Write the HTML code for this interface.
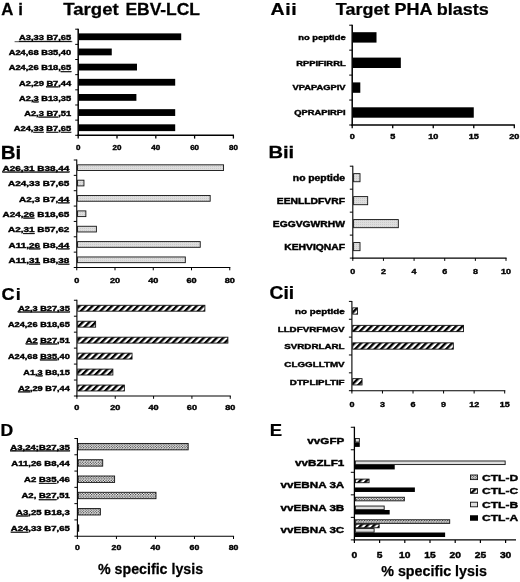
<!DOCTYPE html>
<html><head><meta charset="utf-8"><title>Figure</title>
<style>
html,body{margin:0;padding:0;background:#fff;}
body{width:520px;height:582px;overflow:hidden;}
svg{display:block;filter:blur(0.35px);}
svg text{font-family:"Liberation Sans",Arial,Helvetica,sans-serif;font-weight:bold;fill:#000;stroke:#000;stroke-width:0.25px;}
svg text.s{stroke-width:0.4px;}
</style></head><body>
<svg width="520" height="582" viewBox="0 0 520 582">
<defs>
<pattern id="phatch" width="4.6" height="4.6" patternUnits="userSpaceOnUse" patternTransform="rotate(45)">
<rect width="4.6" height="4.6" fill="#fff"/><rect width="2.35" height="4.6" fill="#000"/></pattern>
<pattern id="pdot" width="2.6" height="2.6" patternUnits="userSpaceOnUse">
<rect width="2.6" height="2.6" fill="#fff"/><circle cx="0.65" cy="0.65" r="0.62" fill="#000"/><circle cx="1.95" cy="1.95" r="0.62" fill="#000"/></pattern>
<pattern id="pgray" width="2" height="2" patternUnits="userSpaceOnUse">
<rect width="2" height="2" fill="#dedede"/><rect width="1" height="1" fill="#cbcbcb"/></pattern>
</defs>
<rect width="520" height="582" fill="#fff"/>

<text transform="translate(1.20,15.00) scale(1.030,1)" font-size="16.3" text-anchor="start" word-spacing="0.8">A i</text>
<text transform="translate(63.20,15.00) scale(1.164,1)" font-size="16" text-anchor="start">Target</text>
<text transform="translate(125.40,15.00) scale(1.091,1)" font-size="16" text-anchor="start">EBV-LCL</text>
<text transform="translate(270.60,15.00) scale(1.150,1)" font-size="17" text-anchor="start" letter-spacing="0.5">Aii</text>
<text transform="translate(335.80,15.00) scale(1.125,1)" font-size="16" text-anchor="start">Target PHA blasts</text>
<text transform="translate(0.80,158.50) scale(1.080,1)" font-size="19" text-anchor="start">Bi</text>
<text transform="translate(268.40,158.00) scale(1.170,1)" font-size="17.2" text-anchor="start">Bii</text>
<text transform="translate(1.40,300.00) scale(1.100,1)" font-size="16.5" text-anchor="start" letter-spacing="1.2">Ci</text>
<text transform="translate(269.60,298.80) scale(1.100,1)" font-size="17.5" text-anchor="start">Cii</text>
<text transform="translate(0.60,435.60) scale(1.100,1)" font-size="16" text-anchor="start">D</text>
<text transform="translate(269.80,436.00) scale(1.120,1)" font-size="16.5" text-anchor="start">E</text>
<text transform="translate(98.00,573.60) scale(0.995,1)" font-size="14.3" text-anchor="start">% specific lysis</text>
<text transform="translate(381.20,576.30) scale(1.000,1)" font-size="14.3" text-anchor="start">% specific lysis</text>
<line x1="78.20" y1="28.70" x2="78.20" y2="136.05" stroke="#000" stroke-width="1.5"/>
<line x1="77.45" y1="135.30" x2="234.00" y2="135.30" stroke="#000" stroke-width="1.5"/>
<line x1="75.20" y1="29.20" x2="78.20" y2="29.20" stroke="#000" stroke-width="1.0"/>
<line x1="75.20" y1="44.36" x2="78.20" y2="44.36" stroke="#000" stroke-width="1.0"/>
<line x1="75.20" y1="59.51" x2="78.20" y2="59.51" stroke="#000" stroke-width="1.0"/>
<line x1="75.20" y1="74.67" x2="78.20" y2="74.67" stroke="#000" stroke-width="1.0"/>
<line x1="75.20" y1="89.83" x2="78.20" y2="89.83" stroke="#000" stroke-width="1.0"/>
<line x1="75.20" y1="104.99" x2="78.20" y2="104.99" stroke="#000" stroke-width="1.0"/>
<line x1="75.20" y1="120.14" x2="78.20" y2="120.14" stroke="#000" stroke-width="1.0"/>
<line x1="75.20" y1="135.30" x2="78.20" y2="135.30" stroke="#000" stroke-width="1.0"/>
<line x1="78.20" y1="135.30" x2="78.20" y2="138.60" stroke="#000" stroke-width="1.3"/>
<text transform="translate(78.20,150.00) scale(1.100,1)" font-size="7.3" text-anchor="middle" class="s">0</text>
<line x1="117.00" y1="135.30" x2="117.00" y2="138.60" stroke="#000" stroke-width="1.3"/>
<text transform="translate(117.00,150.00) scale(1.100,1)" font-size="7.3" text-anchor="middle" class="s">20</text>
<line x1="155.80" y1="135.30" x2="155.80" y2="138.60" stroke="#000" stroke-width="1.3"/>
<text transform="translate(155.80,150.00) scale(1.100,1)" font-size="7.3" text-anchor="middle" class="s">40</text>
<line x1="194.60" y1="135.30" x2="194.60" y2="138.60" stroke="#000" stroke-width="1.3"/>
<text transform="translate(194.60,150.00) scale(1.100,1)" font-size="7.3" text-anchor="middle" class="s">60</text>
<line x1="233.40" y1="135.30" x2="233.40" y2="138.60" stroke="#000" stroke-width="1.3"/>
<text transform="translate(233.40,150.00) scale(1.100,1)" font-size="7.3" text-anchor="middle" class="s">80</text>
<rect x="78.75" y="33.38" width="102.46" height="6.80" fill="#000"/>
<text transform="translate(71.20,40.18) scale(1.330,1)" font-size="7" text-anchor="end" class="s"><tspan text-decoration="underline">A3,33 B7,65</tspan></text>
<rect x="78.75" y="48.54" width="33.01" height="6.80" fill="#000"/>
<text transform="translate(71.20,55.34) scale(1.330,1)" font-size="7" text-anchor="end" class="s">A24,68 B35,40</text>
<rect x="78.75" y="63.69" width="58.23" height="6.80" fill="#000"/>
<text transform="translate(71.20,70.49) scale(1.330,1)" font-size="7" text-anchor="end" class="s">A24,26 B18,<tspan text-decoration="underline">65</tspan></text>
<rect x="78.75" y="78.85" width="96.45" height="6.80" fill="#000"/>
<text transform="translate(71.20,85.65) scale(1.330,1)" font-size="7" text-anchor="end" class="s">A2,29 <tspan text-decoration="underline">B7</tspan>,44</text>
<rect x="78.75" y="94.01" width="57.65" height="6.80" fill="#000"/>
<text transform="translate(71.20,100.81) scale(1.330,1)" font-size="7" text-anchor="end" class="s">A2,<tspan text-decoration="underline">3</tspan> B13,35</text>
<rect x="78.75" y="109.16" width="96.45" height="6.80" fill="#000"/>
<text transform="translate(71.20,115.96) scale(1.330,1)" font-size="7" text-anchor="end" class="s">A2,<tspan text-decoration="underline">3 B7</tspan>,51</text>
<rect x="78.75" y="124.32" width="96.45" height="6.80" fill="#000"/>
<text transform="translate(71.20,131.12) scale(1.330,1)" font-size="7" text-anchor="end" class="s">A24,<tspan text-decoration="underline">33</tspan> <tspan text-decoration="underline">B7</tspan>,<tspan text-decoration="underline">65</tspan></text>
<line x1="14.60" y1="41.70" x2="72.30" y2="41.70" stroke="#000" stroke-width="0.7"/>
<line x1="76.75" y1="159.50" x2="76.75" y2="268.05" stroke="#000" stroke-width="1.1"/>
<line x1="76.20" y1="267.50" x2="230.35" y2="267.50" stroke="#000" stroke-width="1.1"/>
<line x1="73.75" y1="160.00" x2="76.75" y2="160.00" stroke="#000" stroke-width="1.0"/>
<line x1="73.75" y1="175.36" x2="76.75" y2="175.36" stroke="#000" stroke-width="1.0"/>
<line x1="73.75" y1="190.71" x2="76.75" y2="190.71" stroke="#000" stroke-width="1.0"/>
<line x1="73.75" y1="206.07" x2="76.75" y2="206.07" stroke="#000" stroke-width="1.0"/>
<line x1="73.75" y1="221.43" x2="76.75" y2="221.43" stroke="#000" stroke-width="1.0"/>
<line x1="73.75" y1="236.79" x2="76.75" y2="236.79" stroke="#000" stroke-width="1.0"/>
<line x1="73.75" y1="252.14" x2="76.75" y2="252.14" stroke="#000" stroke-width="1.0"/>
<line x1="73.75" y1="267.50" x2="76.75" y2="267.50" stroke="#000" stroke-width="1.0"/>
<line x1="76.75" y1="267.50" x2="76.75" y2="270.30" stroke="#000" stroke-width="1.0"/>
<text transform="translate(76.75,282.60) scale(1.200,1)" font-size="7.6" text-anchor="middle" class="s">0</text>
<line x1="115.00" y1="267.50" x2="115.00" y2="270.30" stroke="#000" stroke-width="1.0"/>
<text transform="translate(115.00,282.60) scale(1.200,1)" font-size="7.6" text-anchor="middle" class="s">20</text>
<line x1="153.25" y1="267.50" x2="153.25" y2="270.30" stroke="#000" stroke-width="1.0"/>
<text transform="translate(153.25,282.60) scale(1.200,1)" font-size="7.6" text-anchor="middle" class="s">40</text>
<line x1="191.50" y1="267.50" x2="191.50" y2="270.30" stroke="#000" stroke-width="1.0"/>
<text transform="translate(191.50,282.60) scale(1.200,1)" font-size="7.6" text-anchor="middle" class="s">60</text>
<line x1="229.75" y1="267.50" x2="229.75" y2="270.30" stroke="#000" stroke-width="1.0"/>
<text transform="translate(229.75,282.60) scale(1.200,1)" font-size="7.6" text-anchor="middle" class="s">80</text>
<rect x="77.55" y="164.83" width="146.01" height="5.70" fill="url(#pgray)" stroke="#111" stroke-width="0.9"/>
<text transform="translate(69.40,170.88) scale(1.310,1)" font-size="7.6" text-anchor="end" class="s"><tspan text-decoration="underline">A26,31 B38,44</tspan></text>
<rect x="77.55" y="180.19" width="6.40" height="5.70" fill="url(#pgray)" stroke="#111" stroke-width="0.9"/>
<text transform="translate(69.40,186.24) scale(1.310,1)" font-size="7.6" text-anchor="end" class="s">A24,33 B7,65</text>
<rect x="77.55" y="195.54" width="132.62" height="5.70" fill="url(#pgray)" stroke="#111" stroke-width="0.9"/>
<text transform="translate(69.40,201.59) scale(1.310,1)" font-size="7.6" text-anchor="end" class="s">A2,3 B7,<tspan text-decoration="underline">44</tspan></text>
<rect x="77.55" y="210.90" width="8.31" height="5.70" fill="url(#pgray)" stroke="#111" stroke-width="0.9"/>
<text transform="translate(69.40,216.95) scale(1.310,1)" font-size="7.6" text-anchor="end" class="s">A24,<tspan text-decoration="underline">26</tspan> B18,65</text>
<rect x="77.55" y="226.26" width="18.83" height="5.70" fill="url(#pgray)" stroke="#111" stroke-width="0.9"/>
<text transform="translate(69.40,232.31) scale(1.310,1)" font-size="7.6" text-anchor="end" class="s">A2,<tspan text-decoration="underline">31</tspan> B57,62</text>
<rect x="77.55" y="241.61" width="122.68" height="5.70" fill="url(#pgray)" stroke="#111" stroke-width="0.9"/>
<text transform="translate(69.40,247.66) scale(1.310,1)" font-size="7.6" text-anchor="end" class="s">A11,<tspan text-decoration="underline">26</tspan> B8,<tspan text-decoration="underline">44</tspan></text>
<rect x="77.55" y="256.97" width="107.76" height="5.70" fill="url(#pgray)" stroke="#111" stroke-width="0.9"/>
<text transform="translate(69.40,263.02) scale(1.310,1)" font-size="7.6" text-anchor="end" class="s">A11,<tspan text-decoration="underline">31</tspan> B8,<tspan text-decoration="underline">38</tspan></text>
<line x1="76.90" y1="299.75" x2="76.90" y2="396.55" stroke="#000" stroke-width="1.1"/>
<line x1="76.35" y1="396.00" x2="230.85" y2="396.00" stroke="#000" stroke-width="1.1"/>
<line x1="73.90" y1="300.25" x2="76.90" y2="300.25" stroke="#000" stroke-width="1.0"/>
<line x1="73.90" y1="316.21" x2="76.90" y2="316.21" stroke="#000" stroke-width="1.0"/>
<line x1="73.90" y1="332.17" x2="76.90" y2="332.17" stroke="#000" stroke-width="1.0"/>
<line x1="73.90" y1="348.12" x2="76.90" y2="348.12" stroke="#000" stroke-width="1.0"/>
<line x1="73.90" y1="364.08" x2="76.90" y2="364.08" stroke="#000" stroke-width="1.0"/>
<line x1="73.90" y1="380.04" x2="76.90" y2="380.04" stroke="#000" stroke-width="1.0"/>
<line x1="73.90" y1="396.00" x2="76.90" y2="396.00" stroke="#000" stroke-width="1.0"/>
<line x1="76.90" y1="396.00" x2="76.90" y2="398.80" stroke="#000" stroke-width="1.0"/>
<text transform="translate(76.90,409.75) scale(1.200,1)" font-size="7.6" text-anchor="middle" class="s">0</text>
<line x1="115.24" y1="396.00" x2="115.24" y2="398.80" stroke="#000" stroke-width="1.0"/>
<text transform="translate(115.24,409.75) scale(1.200,1)" font-size="7.6" text-anchor="middle" class="s">20</text>
<line x1="153.57" y1="396.00" x2="153.57" y2="398.80" stroke="#000" stroke-width="1.0"/>
<text transform="translate(153.57,409.75) scale(1.200,1)" font-size="7.6" text-anchor="middle" class="s">40</text>
<line x1="191.91" y1="396.00" x2="191.91" y2="398.80" stroke="#000" stroke-width="1.0"/>
<text transform="translate(191.91,409.75) scale(1.200,1)" font-size="7.6" text-anchor="middle" class="s">60</text>
<line x1="230.25" y1="396.00" x2="230.25" y2="398.80" stroke="#000" stroke-width="1.0"/>
<text transform="translate(230.25,409.75) scale(1.200,1)" font-size="7.6" text-anchor="middle" class="s">80</text>
<rect x="77.70" y="305.28" width="127.18" height="5.90" fill="url(#phatch)" stroke="#111" stroke-width="0.9"/>
<text transform="translate(69.80,310.83) scale(1.260,1)" font-size="7.3" text-anchor="end" class="s"><tspan text-decoration="underline">A2,3 B27,35</tspan></text>
<rect x="77.70" y="321.24" width="17.92" height="5.90" fill="url(#phatch)" stroke="#111" stroke-width="0.9"/>
<text transform="translate(69.80,326.79) scale(1.260,1)" font-size="7.3" text-anchor="end" class="s">A24,26 B18,65</text>
<rect x="77.70" y="337.20" width="150.18" height="5.90" fill="url(#phatch)" stroke="#111" stroke-width="0.9"/>
<text transform="translate(69.80,342.75) scale(1.260,1)" font-size="7.3" text-anchor="end" class="s"><tspan text-decoration="underline">A2</tspan> <tspan text-decoration="underline">B27</tspan>,51</text>
<rect x="77.70" y="353.15" width="54.34" height="5.90" fill="url(#phatch)" stroke="#111" stroke-width="0.9"/>
<text transform="translate(69.80,358.70) scale(1.260,1)" font-size="7.3" text-anchor="end" class="s">A24,68 <tspan text-decoration="underline">B35</tspan>,40</text>
<rect x="77.70" y="369.11" width="35.17" height="5.90" fill="url(#phatch)" stroke="#111" stroke-width="0.9"/>
<text transform="translate(69.80,374.66) scale(1.260,1)" font-size="7.3" text-anchor="end" class="s">A1,<tspan text-decoration="underline">3</tspan> B8,15</text>
<rect x="77.70" y="385.07" width="46.67" height="5.90" fill="url(#phatch)" stroke="#111" stroke-width="0.9"/>
<text transform="translate(69.80,390.62) scale(1.260,1)" font-size="7.3" text-anchor="end" class="s"><tspan text-decoration="underline">A2</tspan>,29 B7,44</text>
<line x1="17.00" y1="311.75" x2="21.00" y2="311.75" stroke="#000" stroke-width="0.6"/>
<line x1="77.40" y1="438.00" x2="77.40" y2="536.75" stroke="#000" stroke-width="1.1"/>
<line x1="76.85" y1="536.20" x2="234.10" y2="536.20" stroke="#000" stroke-width="1.1"/>
<line x1="74.40" y1="438.50" x2="77.40" y2="438.50" stroke="#000" stroke-width="1.0"/>
<line x1="74.40" y1="454.78" x2="77.40" y2="454.78" stroke="#000" stroke-width="1.0"/>
<line x1="74.40" y1="471.07" x2="77.40" y2="471.07" stroke="#000" stroke-width="1.0"/>
<line x1="74.40" y1="487.35" x2="77.40" y2="487.35" stroke="#000" stroke-width="1.0"/>
<line x1="74.40" y1="503.63" x2="77.40" y2="503.63" stroke="#000" stroke-width="1.0"/>
<line x1="74.40" y1="519.92" x2="77.40" y2="519.92" stroke="#000" stroke-width="1.0"/>
<line x1="74.40" y1="536.20" x2="77.40" y2="536.20" stroke="#000" stroke-width="1.0"/>
<line x1="77.40" y1="536.20" x2="77.40" y2="539.00" stroke="#000" stroke-width="1.0"/>
<text transform="translate(77.40,550.20) scale(1.150,1)" font-size="7.6" text-anchor="middle" class="s">0</text>
<line x1="116.43" y1="536.20" x2="116.43" y2="539.00" stroke="#000" stroke-width="1.0"/>
<text transform="translate(116.43,550.20) scale(1.150,1)" font-size="7.6" text-anchor="middle" class="s">20</text>
<line x1="155.45" y1="536.20" x2="155.45" y2="539.00" stroke="#000" stroke-width="1.0"/>
<text transform="translate(155.45,550.20) scale(1.150,1)" font-size="7.6" text-anchor="middle" class="s">40</text>
<line x1="194.47" y1="536.20" x2="194.47" y2="539.00" stroke="#000" stroke-width="1.0"/>
<text transform="translate(194.47,550.20) scale(1.150,1)" font-size="7.6" text-anchor="middle" class="s">60</text>
<line x1="233.50" y1="536.20" x2="233.50" y2="539.00" stroke="#000" stroke-width="1.0"/>
<text transform="translate(233.50,550.20) scale(1.150,1)" font-size="7.6" text-anchor="middle" class="s">80</text>
<rect x="78.20" y="443.44" width="109.97" height="6.40" fill="url(#pdot)" stroke="#111" stroke-width="0.9"/>
<text transform="translate(69.80,449.64) scale(1.310,1)" font-size="7.3" text-anchor="end" class="s"><tspan text-decoration="underline">A3,24;B27,35</tspan></text>
<rect x="78.20" y="459.73" width="24.51" height="6.40" fill="url(#pdot)" stroke="#111" stroke-width="0.9"/>
<text transform="translate(69.80,465.93) scale(1.310,1)" font-size="7.3" text-anchor="end" class="s">A11,26 B8,44</text>
<rect x="78.20" y="476.01" width="36.41" height="6.40" fill="url(#pdot)" stroke="#111" stroke-width="0.9"/>
<text transform="translate(69.80,482.21) scale(1.310,1)" font-size="7.3" text-anchor="end" class="s">A2 <tspan text-decoration="underline">B35</tspan>,46</text>
<rect x="78.20" y="492.29" width="77.78" height="6.40" fill="url(#pdot)" stroke="#111" stroke-width="0.9"/>
<text transform="translate(69.80,498.49) scale(1.310,1)" font-size="7.3" text-anchor="end" class="s">A2, <tspan text-decoration="underline">B27</tspan>,51</text>
<rect x="78.20" y="508.58" width="22.16" height="6.40" fill="url(#pdot)" stroke="#111" stroke-width="0.9"/>
<text transform="translate(69.80,514.78) scale(1.310,1)" font-size="7.3" text-anchor="end" class="s"><tspan text-decoration="underline">A3</tspan>,25 B18,3</text>
<rect x="78.20" y="524.86" width="0.51" height="6.40" fill="url(#pdot)" stroke="#111" stroke-width="0.9"/>
<text transform="translate(69.80,531.06) scale(1.310,1)" font-size="7.3" text-anchor="end" class="s"><tspan text-decoration="underline">A24</tspan>,33 B7,65</text>
<line x1="12.00" y1="450.60" x2="16.00" y2="450.60" stroke="#000" stroke-width="0.6"/>
<line x1="352.20" y1="24.70" x2="352.20" y2="125.75" stroke="#000" stroke-width="1.5"/>
<line x1="351.45" y1="125.00" x2="514.90" y2="125.00" stroke="#000" stroke-width="1.5"/>
<line x1="349.20" y1="25.20" x2="352.20" y2="25.20" stroke="#000" stroke-width="1.0"/>
<line x1="349.20" y1="50.15" x2="352.20" y2="50.15" stroke="#000" stroke-width="1.0"/>
<line x1="349.20" y1="75.10" x2="352.20" y2="75.10" stroke="#000" stroke-width="1.0"/>
<line x1="349.20" y1="100.05" x2="352.20" y2="100.05" stroke="#000" stroke-width="1.0"/>
<line x1="349.20" y1="125.00" x2="352.20" y2="125.00" stroke="#000" stroke-width="1.0"/>
<line x1="352.20" y1="125.00" x2="352.20" y2="128.30" stroke="#000" stroke-width="1.3"/>
<text transform="translate(352.20,139.40) scale(1.200,1)" font-size="7.6" text-anchor="middle" class="s">0</text>
<line x1="392.72" y1="125.00" x2="392.72" y2="128.30" stroke="#000" stroke-width="1.3"/>
<text transform="translate(392.72,139.40) scale(1.200,1)" font-size="7.6" text-anchor="middle" class="s">5</text>
<line x1="433.25" y1="125.00" x2="433.25" y2="128.30" stroke="#000" stroke-width="1.3"/>
<text transform="translate(433.25,139.40) scale(1.200,1)" font-size="7.6" text-anchor="middle" class="s">10</text>
<line x1="473.77" y1="125.00" x2="473.77" y2="128.30" stroke="#000" stroke-width="1.3"/>
<text transform="translate(473.77,139.40) scale(1.200,1)" font-size="7.6" text-anchor="middle" class="s">15</text>
<line x1="514.30" y1="125.00" x2="514.30" y2="128.30" stroke="#000" stroke-width="1.3"/>
<text transform="translate(514.30,139.40) scale(1.200,1)" font-size="7.6" text-anchor="middle" class="s">20</text>
<rect x="352.75" y="32.20" width="23.76" height="10.40" fill="#000"/>
<text transform="translate(345.60,40.20) scale(1.250,1)" font-size="7.5" text-anchor="end" class="s">no peptide</text>
<rect x="352.75" y="57.60" width="48.08" height="10.40" fill="#000"/>
<text transform="translate(345.60,65.60) scale(1.250,1)" font-size="7.5" text-anchor="end" class="s">RPPIFIRRL</text>
<rect x="352.75" y="82.40" width="7.55" height="10.40" fill="#000"/>
<text transform="translate(345.60,90.40) scale(1.250,1)" font-size="7.5" text-anchor="end" class="s">VPAPAGPIV</text>
<rect x="352.75" y="107.30" width="121.02" height="10.40" fill="#000"/>
<text transform="translate(345.60,115.30) scale(1.250,1)" font-size="7.5" text-anchor="end" class="s">QPRAPIRPI</text>
<line x1="352.80" y1="165.70" x2="352.80" y2="258.65" stroke="#000" stroke-width="1.1"/>
<line x1="352.25" y1="258.10" x2="506.60" y2="258.10" stroke="#000" stroke-width="1.1"/>
<line x1="349.80" y1="166.20" x2="352.80" y2="166.20" stroke="#000" stroke-width="1.0"/>
<line x1="349.80" y1="189.18" x2="352.80" y2="189.18" stroke="#000" stroke-width="1.0"/>
<line x1="349.80" y1="212.15" x2="352.80" y2="212.15" stroke="#000" stroke-width="1.0"/>
<line x1="349.80" y1="235.12" x2="352.80" y2="235.12" stroke="#000" stroke-width="1.0"/>
<line x1="349.80" y1="258.10" x2="352.80" y2="258.10" stroke="#000" stroke-width="1.0"/>
<line x1="352.80" y1="258.10" x2="352.80" y2="260.90" stroke="#000" stroke-width="1.0"/>
<text transform="translate(352.80,274.20) scale(1.150,1)" font-size="7.8" text-anchor="middle" class="s">0</text>
<line x1="383.44" y1="258.10" x2="383.44" y2="260.90" stroke="#000" stroke-width="1.0"/>
<text transform="translate(383.44,274.20) scale(1.150,1)" font-size="7.8" text-anchor="middle" class="s">2</text>
<line x1="414.08" y1="258.10" x2="414.08" y2="260.90" stroke="#000" stroke-width="1.0"/>
<text transform="translate(414.08,274.20) scale(1.150,1)" font-size="7.8" text-anchor="middle" class="s">4</text>
<line x1="444.72" y1="258.10" x2="444.72" y2="260.90" stroke="#000" stroke-width="1.0"/>
<text transform="translate(444.72,274.20) scale(1.150,1)" font-size="7.8" text-anchor="middle" class="s">6</text>
<line x1="475.36" y1="258.10" x2="475.36" y2="260.90" stroke="#000" stroke-width="1.0"/>
<text transform="translate(475.36,274.20) scale(1.150,1)" font-size="7.8" text-anchor="middle" class="s">8</text>
<line x1="506.00" y1="258.10" x2="506.00" y2="260.90" stroke="#000" stroke-width="1.0"/>
<text transform="translate(506.00,274.20) scale(1.150,1)" font-size="7.8" text-anchor="middle" class="s">10</text>
<rect x="353.60" y="173.64" width="6.41" height="8.10" fill="url(#pgray)" stroke="#111" stroke-width="0.9"/>
<text transform="translate(345.00,180.69) scale(1.260,1)" font-size="8.2" text-anchor="end" class="s">no peptide</text>
<rect x="353.60" y="196.61" width="14.07" height="8.10" fill="url(#pgray)" stroke="#111" stroke-width="0.9"/>
<text transform="translate(345.00,203.66) scale(1.260,1)" font-size="8.2" text-anchor="end" class="s">EENLLDFVRF</text>
<rect x="353.60" y="219.59" width="44.71" height="8.10" fill="url(#pgray)" stroke="#111" stroke-width="0.9"/>
<text transform="translate(345.00,226.64) scale(1.260,1)" font-size="8.2" text-anchor="end" class="s">EGGVGWRHW</text>
<rect x="353.60" y="242.56" width="6.41" height="8.10" fill="url(#pgray)" stroke="#111" stroke-width="0.9"/>
<text transform="translate(345.00,249.61) scale(1.260,1)" font-size="8.2" text-anchor="end" class="s">KEHVIQNAF</text>
<line x1="351.90" y1="300.90" x2="351.90" y2="391.25" stroke="#000" stroke-width="1.1"/>
<line x1="351.35" y1="390.70" x2="505.30" y2="390.70" stroke="#000" stroke-width="1.1"/>
<line x1="348.90" y1="301.40" x2="351.90" y2="301.40" stroke="#000" stroke-width="1.0"/>
<line x1="348.90" y1="319.26" x2="351.90" y2="319.26" stroke="#000" stroke-width="1.0"/>
<line x1="348.90" y1="337.12" x2="351.90" y2="337.12" stroke="#000" stroke-width="1.0"/>
<line x1="348.90" y1="354.98" x2="351.90" y2="354.98" stroke="#000" stroke-width="1.0"/>
<line x1="348.90" y1="372.84" x2="351.90" y2="372.84" stroke="#000" stroke-width="1.0"/>
<line x1="348.90" y1="390.70" x2="351.90" y2="390.70" stroke="#000" stroke-width="1.0"/>
<line x1="351.90" y1="390.70" x2="351.90" y2="393.50" stroke="#000" stroke-width="1.0"/>
<text transform="translate(351.90,407.40) scale(1.150,1)" font-size="7.8" text-anchor="middle" class="s">0</text>
<line x1="382.46" y1="390.70" x2="382.46" y2="393.50" stroke="#000" stroke-width="1.0"/>
<text transform="translate(382.46,407.40) scale(1.150,1)" font-size="7.8" text-anchor="middle" class="s">3</text>
<line x1="413.02" y1="390.70" x2="413.02" y2="393.50" stroke="#000" stroke-width="1.0"/>
<text transform="translate(413.02,407.40) scale(1.150,1)" font-size="7.8" text-anchor="middle" class="s">6</text>
<line x1="443.58" y1="390.70" x2="443.58" y2="393.50" stroke="#000" stroke-width="1.0"/>
<text transform="translate(443.58,407.40) scale(1.150,1)" font-size="7.8" text-anchor="middle" class="s">9</text>
<line x1="474.14" y1="390.70" x2="474.14" y2="393.50" stroke="#000" stroke-width="1.0"/>
<text transform="translate(474.14,407.40) scale(1.150,1)" font-size="7.8" text-anchor="middle" class="s">12</text>
<line x1="504.70" y1="390.70" x2="504.70" y2="393.50" stroke="#000" stroke-width="1.0"/>
<text transform="translate(504.70,407.40) scale(1.150,1)" font-size="7.8" text-anchor="middle" class="s">15</text>
<rect x="352.70" y="307.85" width="4.86" height="6.30" fill="url(#phatch)" stroke="#111" stroke-width="0.9"/>
<text transform="translate(344.60,314.10) scale(1.227,1)" font-size="8.0" text-anchor="end" class="s">no peptide</text>
<rect x="352.70" y="325.35" width="110.80" height="6.30" fill="url(#phatch)" stroke="#111" stroke-width="0.9"/>
<text transform="translate(344.60,331.60) scale(1.227,1)" font-size="8.0" text-anchor="end" class="s">LLDFVRFMGV</text>
<rect x="352.70" y="342.85" width="100.62" height="6.30" fill="url(#phatch)" stroke="#111" stroke-width="0.9"/>
<text transform="translate(344.60,349.10) scale(1.227,1)" font-size="8.0" text-anchor="end" class="s">SVRDRLARL</text>
<text transform="translate(344.60,366.60) scale(1.227,1)" font-size="8.0" text-anchor="end" class="s">CLGGLLTMV</text>
<rect x="352.70" y="378.65" width="9.34" height="6.30" fill="url(#phatch)" stroke="#111" stroke-width="0.9"/>
<text transform="translate(344.60,384.90) scale(1.227,1)" font-size="8.0" text-anchor="end" class="s">DTPLIPLTIF</text>
<line x1="354.40" y1="426.75" x2="354.40" y2="540.50" stroke="#000" stroke-width="1.3"/>
<line x1="353.80" y1="539.90" x2="516.00" y2="539.90" stroke="#000" stroke-width="1.3"/>
<line x1="350.80" y1="427.25" x2="354.40" y2="427.25" stroke="#000" stroke-width="1.0"/>
<line x1="350.80" y1="449.78" x2="354.40" y2="449.78" stroke="#000" stroke-width="1.0"/>
<line x1="350.80" y1="472.31" x2="354.40" y2="472.31" stroke="#000" stroke-width="1.0"/>
<line x1="350.80" y1="494.84" x2="354.40" y2="494.84" stroke="#000" stroke-width="1.0"/>
<line x1="350.80" y1="517.37" x2="354.40" y2="517.37" stroke="#000" stroke-width="1.0"/>
<line x1="350.80" y1="539.90" x2="354.40" y2="539.90" stroke="#000" stroke-width="1.0"/>
<line x1="354.40" y1="539.90" x2="354.40" y2="543.10" stroke="#000" stroke-width="1.2"/>
<text transform="translate(354.40,557.70) scale(1.170,1)" font-size="8.8" text-anchor="middle" class="s">0</text>
<line x1="379.60" y1="539.90" x2="379.60" y2="543.10" stroke="#000" stroke-width="1.2"/>
<text transform="translate(379.60,557.70) scale(1.170,1)" font-size="8.8" text-anchor="middle" class="s">5</text>
<line x1="404.80" y1="539.90" x2="404.80" y2="543.10" stroke="#000" stroke-width="1.2"/>
<text transform="translate(404.80,557.70) scale(1.170,1)" font-size="8.8" text-anchor="middle" class="s">10</text>
<line x1="430.00" y1="539.90" x2="430.00" y2="543.10" stroke="#000" stroke-width="1.2"/>
<text transform="translate(430.00,557.70) scale(1.170,1)" font-size="8.8" text-anchor="middle" class="s">15</text>
<line x1="455.20" y1="539.90" x2="455.20" y2="543.10" stroke="#000" stroke-width="1.2"/>
<text transform="translate(455.20,557.70) scale(1.170,1)" font-size="8.8" text-anchor="middle" class="s">20</text>
<line x1="480.40" y1="539.90" x2="480.40" y2="543.10" stroke="#000" stroke-width="1.2"/>
<text transform="translate(480.40,557.70) scale(1.170,1)" font-size="8.8" text-anchor="middle" class="s">25</text>
<line x1="505.60" y1="539.90" x2="505.60" y2="543.10" stroke="#000" stroke-width="1.2"/>
<text transform="translate(505.60,557.70) scale(1.170,1)" font-size="8.8" text-anchor="middle" class="s">30</text>
<text transform="translate(344.30,444.30) scale(1.270,1)" font-size="9.2" text-anchor="end" class="s">vvGFP</text>
<rect x="355.35" y="438.45" width="3.99" height="3.60" fill="#dedede" stroke="#111" stroke-width="0.9"/>
<rect x="354.90" y="442.40" width="4.89" height="4.50" fill="#000"/>
<text transform="translate(344.30,465.50) scale(1.270,1)" font-size="9.2" text-anchor="end" class="s">vvBZLF1</text>
<rect x="355.35" y="460.98" width="149.80" height="3.60" fill="#dedede" stroke="#111" stroke-width="0.9"/>
<rect x="354.90" y="464.93" width="39.82" height="4.50" fill="#000"/>
<text transform="translate(344.30,487.50) scale(1.270,1)" font-size="9.2" text-anchor="end" class="s">vvEBNA 3A</text>
<rect x="355.35" y="479.11" width="13.72" height="3.60" fill="url(#phatch)" stroke="#111" stroke-width="0.9"/>
<rect x="354.90" y="487.46" width="59.98" height="4.50" fill="#000"/>
<text transform="translate(344.30,510.50) scale(1.270,1)" font-size="9.2" text-anchor="end" class="s">vvEBNA 3B</text>
<rect x="355.35" y="497.24" width="49.00" height="3.60" fill="url(#pdot)" stroke="#111" stroke-width="0.9"/>
<rect x="355.35" y="506.04" width="28.84" height="3.60" fill="#dedede" stroke="#111" stroke-width="0.9"/>
<rect x="354.90" y="509.99" width="34.78" height="4.50" fill="#000"/>
<text transform="translate(344.30,532.50) scale(1.270,1)" font-size="9.2" text-anchor="end" class="s">vvEBNA 3C</text>
<rect x="355.35" y="519.77" width="94.36" height="3.60" fill="url(#pdot)" stroke="#111" stroke-width="0.9"/>
<rect x="355.35" y="524.17" width="23.80" height="3.60" fill="url(#phatch)" stroke="#111" stroke-width="0.9"/>
<rect x="355.35" y="528.57" width="18.76" height="3.60" fill="#dedede" stroke="#111" stroke-width="0.9"/>
<rect x="354.90" y="532.52" width="90.22" height="4.50" fill="#000"/>
<rect x="470.45" y="475.00" width="7.10" height="4.60" fill="url(#pdot)" stroke="#111" stroke-width="0.9"/>
<text transform="translate(482.00,480.60) scale(1.270,1)" font-size="9.5" text-anchor="start" class="s">CTL-D</text>
<rect x="470.45" y="488.70" width="7.10" height="4.60" fill="url(#phatch)" stroke="#111" stroke-width="0.9"/>
<text transform="translate(482.00,494.30) scale(1.270,1)" font-size="9.5" text-anchor="start" class="s">CTL-C</text>
<rect x="470.45" y="502.20" width="7.10" height="4.60" fill="#dedede" stroke="#111" stroke-width="0.9"/>
<text transform="translate(482.00,507.80) scale(1.270,1)" font-size="9.5" text-anchor="start" class="s">CTL-B</text>
<rect x="470.00" y="515.25" width="8.00" height="5.50" fill="#000"/>
<text transform="translate(482.00,521.30) scale(1.270,1)" font-size="9.5" text-anchor="start" class="s">CTL-A</text>
</svg>
</body></html>
